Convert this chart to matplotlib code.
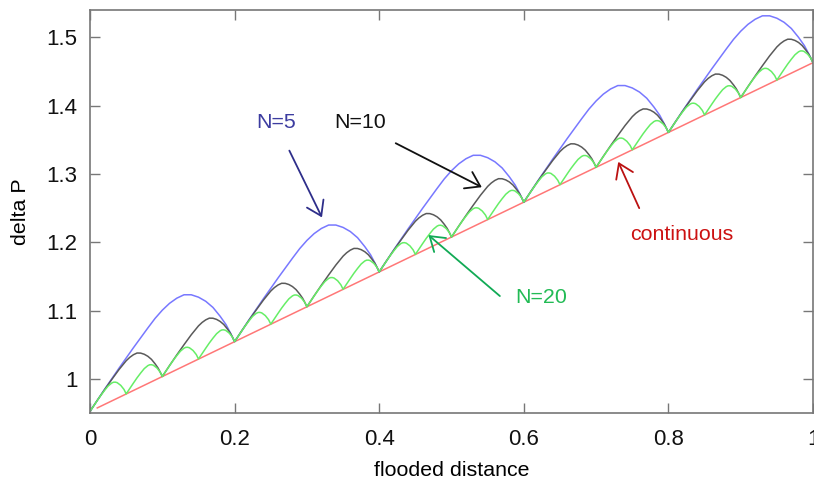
import numpy as np
import matplotlib.pyplot as plt
from matplotlib.ticker import FormatStrFormatter

plt.rcParams['font.family'] = ['Liberation Sans', 'DejaVu Sans']

# continuous case
cont_x = [0.01, 1.0]
cont_y = [0.958, 1.463]

# N=5 : arch start points and one arch shape (offsets from the start)
n5_start_x = [0.0, 0.2, 0.4, 0.6, 0.8]
n5_start_y = [0.953, 1.055, 1.157, 1.259, 1.361]
n5_dx = [0, .02, .04, .06, .08, .09, .10, .11, .12, .13, .14, .15, .16, .17, .18, .188, .194, .2]
n5_dy = [0, 0.032, 0.063, 0.093, 0.122, 0.136, 0.148, 0.158, 0.1655, 0.1705, 0.1705,
         0.167, 0.161, 0.152, 0.139, 0.127, 0.115, 0.102]

# N=10
n10_start_x = [0.0, 0.1, 0.2, 0.3, 0.4, 0.5, 0.6, 0.7, 0.8, 0.9]
n10_start_y = [0.953, 1.004, 1.055, 1.106, 1.157, 1.208, 1.259, 1.310, 1.361, 1.412]
n10_dx = [0, .01, .02, .03, .04, .05, .055, .06, .065, .07, .075, .08, .085, .09, .094, .097, .1]
n10_dy = [0, 0.016, 0.0315, 0.0465, 0.061, 0.074, 0.079, 0.0828, 0.0853, 0.0852,
          0.0835, 0.0805, 0.076, 0.0695, 0.0635, 0.0575, 0.051]

# N=20
n20_start_x = [0.0, 0.05, 0.1, 0.15, 0.2, 0.25, 0.3, 0.35, 0.4, 0.45,
               0.5, 0.55, 0.6, 0.65, 0.7, 0.75, 0.8, 0.85, 0.9, 0.95]
n20_start_y = [0.953, 0.9785, 1.004, 1.0295, 1.055, 1.0805, 1.106, 1.1315, 1.157, 1.1825,
               1.208, 1.2335, 1.259, 1.2845, 1.310, 1.3355, 1.361, 1.3865, 1.412, 1.4375]
n20_dx = [0, .005, .01, .015, .02, .025, .03, .0325, .035, .0375, .0425, .047, .05]
n20_dy = [0, 0.008, 0.0158, 0.0235, 0.0305, 0.037, 0.0414, 0.0426, 0.0427, 0.042,
          0.038, 0.032, 0.0255]


def arches(sx, sy, dx, dy):
    xs = np.concatenate([s + np.array(dx) for s in sx])
    ys = np.concatenate([s + np.array(dy) for s in sy])
    return xs, ys


fig = plt.figure(figsize=(8.14, 4.86), dpi=100)
ax = fig.add_axes([0.1106, 0.1508, 0.8882, 0.8286])

ax.plot(cont_x, cont_y, color='#ff7777', lw=1.1)
x5, y5 = arches(n5_start_x, n5_start_y, n5_dx, n5_dy)
ax.plot(x5, y5, color='#7878ff', lw=1.1)
x10, y10 = arches(n10_start_x, n10_start_y, n10_dx, n10_dy)
ax.plot(x10, y10, color='#5a5a5a', lw=1.1)
x20, y20 = arches(n20_start_x, n20_start_y, n20_dx, n20_dy)
ax.plot(x20, y20, color='#66ee66', lw=1.1)

ax.set_xlim(0, 1)
ax.set_ylim(0.951, 1.54)
ax.set_xticks([0, 0.2, 0.4, 0.6, 0.8, 1.0])
ax.set_yticks([1.0, 1.1, 1.2, 1.3, 1.4, 1.5])
ax.xaxis.set_major_formatter(FormatStrFormatter('%g'))
ax.yaxis.set_major_formatter(FormatStrFormatter('%g'))
ax.tick_params(direction='in', length=7, width=1, color='#777777',
               top=True, right=True, labelsize=16, labelcolor='#111111')
ax.tick_params(axis='x', pad=12)
ax.tick_params(axis='y', pad=9)
for s in ax.spines.values():
    s.set_color('#777777')
    s.set_linewidth(1.2)

ax.set_xlabel('flooded distance', fontsize=15.4, labelpad=8)
ax.set_ylabel('delta P', fontsize=15.4, labelpad=12)

# labels and arrows
arr = '->,head_length=0.45,head_width=0.3'
ax.text(0.257, 1.375, 'N=5', color='#3c3ca0', fontsize=15.4, ha='center', va='center')
ax.annotate('', xy=(0.3225, 1.233), xytext=(0.274, 1.338),
            arrowprops=dict(arrowstyle=arr, color='#2e2e8a', lw=1.3, mutation_scale=22))
ax.text(0.374, 1.375, 'N=10', color='#111111', fontsize=15.4, ha='center', va='center')
ax.annotate('', xy=(0.5453, 1.279), xytext=(0.4194, 1.347),
            arrowprops=dict(arrowstyle=arr, color='#111111', lw=1.3, mutation_scale=22))
ax.text(0.624, 1.119, 'N=20', color='#22bb55', fontsize=15.4, ha='center', va='center')
ax.annotate('', xy=(0.4651, 1.2135), xytext=(0.5698, 1.119),
            arrowprops=dict(arrowstyle=arr, color='#11aa55', lw=1.3, mutation_scale=22))
ax.text(0.819, 1.211, 'continuous', color='#cc1111', fontsize=15.4, ha='center', va='center')
ax.annotate('', xy=(0.729, 1.3216), xytext=(0.7612, 1.2465),
            arrowprops=dict(arrowstyle=arr, color='#bb1111', lw=1.3, mutation_scale=22))

fig.savefig('out.png', dpi=100)
